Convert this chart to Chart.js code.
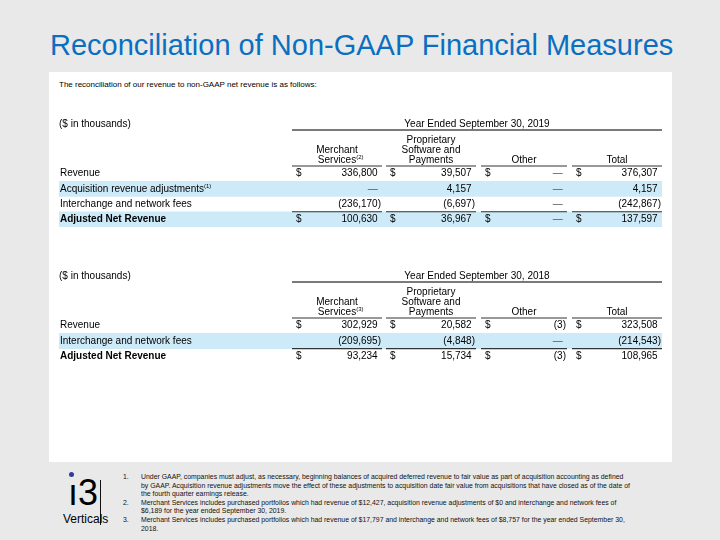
<!DOCTYPE html>
<html>
<head>
<meta charset="utf-8">
<script src="https://cdn.jsdelivr.net/npm/chart.js@4.4.1/dist/chart.umd.min.js"></script>
<style>
  body { margin:0; width:720px; height:540px; background:#e9e9e9; position:relative; overflow:hidden;
         font-family:"Liberation Sans", Arial, sans-serif; color:#000; }
  #title { position:absolute; left:50px; top:31px; font-size:29px; line-height:29px; color:#0b6fc1; white-space:nowrap; }
  #panel { position:absolute; left:49px; top:72px; width:623px; height:390px; background:#fff; }
  #intro { position:absolute; left:59px; top:81px; font-size:8px; line-height:8px; white-space:nowrap; }
  canvas { position:absolute; }
  #notes { position:absolute; left:141px; top:473px; font-size:6.9px; line-height:8.6px; white-space:nowrap; color:#111; }
  .num { position:absolute; left:-18px; }
  #logo3 { position:absolute; left:68px; top:473px; font-size:36px; line-height:40px; }
  #dot { position:absolute; left:69px; top:472px; width:5px; height:5px; border-radius:50%; background:#2e3d9c; }
  #vline { position:absolute; left:100px; top:480px; width:1px; height:45px; background:#111; }
  #verticals { position:absolute; left:63px; top:512px; font-size:12px; line-height:14px; }
</style>
</head>
<body>
<div id="title">Reconciliation of Non-GAAP Financial Measures</div>
<div id="panel"></div>
<div id="intro">The reconciliation of our revenue to non-GAAP net revenue is as follows:</div>
<canvas id="t2019" width="603" height="116" style="left:59px; top:111px;"></canvas>
<canvas id="t2018" width="603" height="101" style="left:59px; top:263px;"></canvas>

<div id="dot"></div>
<div id="logo3">ı3</div>
<div id="vline"></div>
<div id="verticals">Verticals</div>
<div id="notes">
  <span class="num">1.</span>Under GAAP, companies must adjust, as necessary, beginning balances of acquired deferred revenue to fair value as part of acquisition accounting as defined<br>
  by GAAP. Acquisition revenue adjustments move the effect of these adjustments to acquisition date fair value from acquisitions that have closed as of the date of<br>
  the fourth quarter earnings release.<br>
  <span class="num">2.</span>Merchant Services includes purchased portfolios which had revenue of $12,427, acquisition revenue adjustments of $0 and interchange and network fees of<br>
  $6,189 for the year ended September 30, 2019.<br>
  <span class="num">3.</span>Merchant Services includes purchased portfolios which had revenue of $17,797 and interchange and network fees of $8,757 for the year ended September 30,<br>
  2018.
</div>

<script>
// column headers (shared by both tables)
const columns = ['Merchant Services', 'Proprietary Software and Payments', 'Other', 'Total'];
const headerLines = [['Merchant', 'Services'], ['Proprietary', 'Software and', 'Payments'], ['Other'], ['Total']];

// year ended September 30, 2019 ($ in thousands), 0 = dash
const rows2019 = ['Revenue', 'Acquisition revenue adjustments', 'Interchange and network fees', 'Adjusted Net Revenue'];
const notes2019 = [null, '(1)', null, null];
const merchant2019 = [336800, 0, -236170, 100630];
const software2019 = [39507, 4157, -6697, 36967];
const other2019 = [0, 0, 0, 0];
const total2019 = [376307, 4157, -242867, 137597];
const shaded2019 = [false, true, false, true];

// year ended September 30, 2018
const rows2018 = ['Revenue', 'Interchange and network fees', 'Adjusted Net Revenue'];
const notes2018 = [null, null, null];
const merchant2018 = [302929, -209695, 93234];
const software2018 = [20582, -4848, 15734];
const other2018 = [-3, 0, -3];
const total2018 = [323508, -214543, 108965];
const shaded2018 = [false, true, false];

// layout of the table in px from the label column
const tableWidth = 603;
const colSpans = [[233, 323], [327, 417], [422, 508], [513, 603]];
const font = '"Liberation Sans", Arial, sans-serif';

function fmt(n) {
  if (n === 0) return '\u2014';
  const s = Math.abs(n).toLocaleString('en-US');
  return n < 0 ? '(' + s + ')' : s;
}

const tableText = {
  id: 'tableText',
  afterDatasetsDraw(chart, args, o) {
    const ctx = chart.ctx;
    const xs = chart.scales.x, ys = chart.scales.y;
    const band = ys.getPixelForValue(1) - ys.getPixelForValue(0);
    const top = ys.getPixelForValue(0) - band / 2;
    const px = v => xs.getPixelForValue(v);
    ctx.save();
    ctx.fillStyle = '#000';
    ctx.textBaseline = 'middle';

    // title row
    ctx.font = '10px ' + font;
    ctx.textAlign = 'left';
    ctx.fillText('($ in thousands)', px(0), top - 42);
    ctx.textAlign = 'center';
    ctx.fillText(o.year, (px(colSpans[0][0]) + px(colSpans[3][1])) / 2, top - 42);
    ctx.strokeStyle = '#7a7a7a';
    ctx.lineWidth = 2;
    ctx.beginPath();
    ctx.moveTo(px(colSpans[0][0]), top - 36);
    ctx.lineTo(px(colSpans[3][1]), top - 36);
    ctx.stroke();

    // column headers
    headerLines.forEach((lines, c) => {
      const cx = (px(colSpans[c][0]) + px(colSpans[c][1])) / 2;
      lines.forEach((t, k) => {
        const yy = top - 6 - (lines.length - 1 - k) * 9.8;
        ctx.textAlign = 'center';
        ctx.font = '10px ' + font;
        ctx.fillText(t, cx, yy);
        if (c === 0 && k === lines.length - 1 && o.headNote) {
          const w = ctx.measureText(t).width;
          ctx.font = '6px ' + font;
          ctx.textAlign = 'left';
          ctx.fillText(o.headNote, cx + w / 2, yy - 3);
        }
      });
    });

    // rules under the headers and above the totals
    ctx.strokeStyle = '#333';
    ctx.lineWidth = 1.2;
    colSpans.forEach(([a, b]) => {
      ctx.beginPath();
      ctx.moveTo(px(a), top); ctx.lineTo(px(b), top);
      const yb = top + band * (o.rows.length - 1);
      ctx.moveTo(px(a), yb); ctx.lineTo(px(b), yb);
      ctx.stroke();
    });

    // body
    const last = o.rows.length - 1;
    o.rows.forEach((label, i) => {
      const yy = ys.getPixelForValue(i);
      const bold = i === last ? 'bold ' : '';
      ctx.font = bold + '10px ' + font;
      ctx.textAlign = 'left';
      ctx.fillText(label, px(0) + 1, yy);
      if (o.notes[i]) {
        const w = ctx.measureText(label).width;
        ctx.font = '6px ' + font;
        ctx.fillText(o.notes[i], px(0) + 1 + w, yy - 3);
      }
      ctx.font = '10px ' + font;
      const pw = ctx.measureText(')').width;
      o.values.forEach((col, c) => {
        const [a, b] = colSpans[c];
        const v = col[i];
        if (i === 0 || i === last) {
          ctx.textAlign = 'left';
          ctx.fillStyle = '#000';
          ctx.fillText('$', px(a) + 4, yy);
        }
        ctx.textAlign = 'right';
        ctx.fillStyle = v === 0 ? '#555' : '#000';
        ctx.fillText(fmt(v), v < 0 ? px(b) - 1 : px(b) - 1 - pw, yy);
      });
      ctx.fillStyle = '#000';
    });
    ctx.restore();
  }
};

function makeTable(id, rows, notes, shaded, values, year, headNote) {
  new Chart(document.getElementById(id), {
    type: 'bar',
    data: {
      labels: rows,
      datasets: [{
        data: shaded.map(s => s ? [0, tableWidth] : null),
        backgroundColor: '#cdeaf9',
        borderWidth: 0,
        barPercentage: 1,
        categoryPercentage: 1
      }]
    },
    options: {
      indexAxis: 'y',
      responsive: false,
      animation: false,
      layout: { padding: { top: 55, left: 0, right: 0, bottom: 0 } },
      scales: {
        x: { type: 'linear', min: 0, max: tableWidth, display: false },
        y: { type: 'category', display: false, offset: true }
      },
      plugins: {
        legend: { display: false },
        tooltip: { enabled: false },
        tableText: { rows, notes, values, year, headNote }
      }
    },
    plugins: [tableText]
  });
}

makeTable('t2019', rows2019, notes2019, shaded2019,
  [merchant2019, software2019, other2019, total2019], 'Year Ended September 30, 2019', '(2)');
makeTable('t2018', rows2018, notes2018, shaded2018,
  [merchant2018, software2018, other2018, total2018], 'Year Ended September 30, 2018', '(3)');
</script>
</body>
</html>
